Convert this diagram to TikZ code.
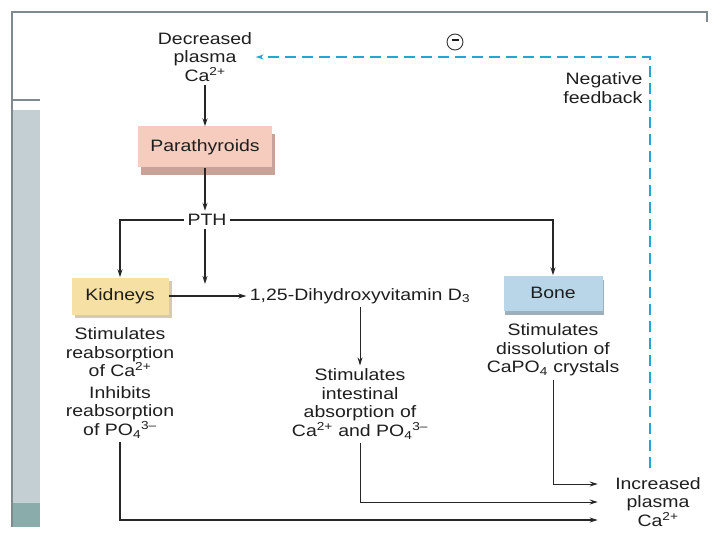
\documentclass[tikz,border=0pt]{standalone}
\usepackage{fontspec}
\setmainfont{Liberation Sans}[FakeStretch=1.18]
\usetikzlibrary{arrows.meta,shadows}

\definecolor{txtgray}{HTML}{1E1E1E}
\definecolor{framegray}{HTML}{7F8A8E}
\definecolor{sidegray}{HTML}{C4CFD4}
\definecolor{sideteal}{HTML}{8AACAA}
\definecolor{paraface}{HTML}{F5CCBE}
\definecolor{parashade}{HTML}{C8A197}
\definecolor{kidface}{HTML}{F7E0A3}
\definecolor{kidshade}{HTML}{D6CBB0}
\definecolor{boneface}{HTML}{B8D6E8}
\definecolor{boneshade}{HTML}{9DB0BA}
\definecolor{fbblue}{HTML}{23A6D5}

\begin{document}
\begin{tikzpicture}[x=1pt,y=-1pt,
    >={Stealth[length=8pt,width=5pt]},
    every node/.style={font=\fontsize{16.5}{18.5}\selectfont, text=txtgray},
    organ/.style={minimum height=37pt, inner sep=0pt},
    flow/.style={->, line width=1.3pt, draw=black!85},
    feedback/.style={->, line width=1.7pt, draw=fbblue, dash pattern=on 11pt off 6pt}]
    \useasboundingbox (0,0) rectangle (720,540);

    % Slide frame and side bar
    \fill[sidegray] (12,110) rectangle (40,503);
    \fill[sideteal] (12,503) rectangle (40,527);
    \draw[framegray, line width=1.2pt] (12,527) -- (12,12) -- (707,12) -- (707,22);
    \draw[framegray, line width=1.2pt] (12,100) -- (40,100);

    % Nodes
    \node[align=center] (dec) at (205,57) {Decreased\\plasma\\Ca\textsuperscript{2+}};
    \node[organ, fill=paraface, minimum width=134pt, minimum height=41pt,
        drop shadow={shadow xshift=3pt, shadow yshift=-8pt, fill=parashade, opacity=1}]
        (para) at (205,147) {Parathyroids};
    \node (pth) at (207,220) {PTH};
    \node[organ, fill=kidface, minimum width=97pt,
        drop shadow={shadow xshift=3pt, shadow yshift=-3pt, fill=kidshade, opacity=1}]
        (kid) at (120,296) {Kidneys};
    \node (vit) at (360,296) {1,25-Dihydroxyvitamin D\textsubscript{3}};
    \node[organ, fill=boneface, minimum width=99pt, minimum height=35pt,
        drop shadow={shadow xshift=1pt, shadow yshift=-4pt, fill=boneshade, opacity=1}]
        (bone) at (553,293) {Bone};
    \node[align=center] (kidtxt) at (120,383)
        {Stimulates\\reabsorption\\of Ca\textsuperscript{2+}\\[3pt]Inhibits\\reabsorption\\of PO\textsubscript{4}\textsuperscript{3–}};
    \node[align=center] (inttxt) at (360,404)
        {Stimulates\\intestinal\\absorption of\\Ca\textsuperscript{2+} and PO\textsubscript{4}\textsuperscript{3–}};
    \node[align=center] (bonetxt) at (553,350)
        {Stimulates\\dissolution of\\CaPO\textsubscript{4} crystals};
    \node[align=center] (inc) at (658,502) {Increased\\plasma\\Ca\textsuperscript{2+}};
    \node[align=right, anchor=east] (neg) at (646,88) {Negative\\feedback};
    \node[circle, draw=black!80, line width=0.9pt, minimum size=16pt, inner sep=0pt]
        (sign) at (455,42) {\rule[0.5ex]{7pt}{1.4pt}};

    \coordinate (pthend) at (205,284);
    \coordinate (fbstart) at (650,468);

    % Connectors
    \draw[flow] (dec) -- (para);
    \draw[flow] (para) -- (para |- pth.north);
    \draw[flow] (pth.west) -| (kid.north);
    \draw[flow] (pth.east) -| (bone.north);
    \draw[flow] (pthend |- pth.south) -- (pthend);
    \draw[flow] (kid.east) -- (vit.west);
    \draw[flow, line width=1pt] (vit.south) -- (inttxt.north);
    \draw[flow, shorten >=14pt] (kidtxt.south) |- ([yshift=-18pt]inc.west);
    \draw[flow, line width=1pt, shorten >=14pt] (inttxt.south) |- (inc.west);
    \draw[flow, line width=1pt, shorten >=14pt] (bonetxt.south) |- ([yshift=18pt]inc.west);

    % Feedback loop
    \draw[feedback] (fbstart) |- (dec.east);
\end{tikzpicture}
\end{document}
